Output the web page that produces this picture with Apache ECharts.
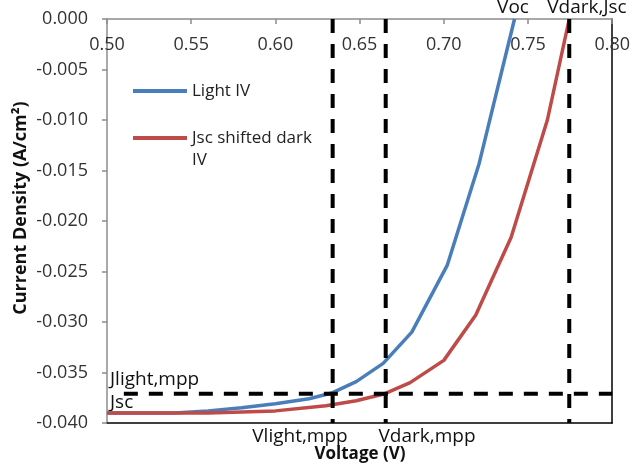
<!DOCTYPE html>
<html>
<head>
<meta charset="utf-8">
<script src="https://cdn.jsdelivr.net/npm/echarts@6/dist/echarts.min.js"></script>
<style>
html,body{margin:0;padding:0;background:#fff;}
#c{width:633px;height:475px;}
</style>
</head>
<body>
<div id="c"></div>
<script>
// Light IV: voltage (V), current density (A/cm2)
var lightV = [0.50, 0.54, 0.56, 0.58, 0.60, 0.62, 0.634, 0.648, 0.664, 0.681, 0.702, 0.721, 0.742];
var lightJ = [-0.0390, -0.0390, -0.0388, -0.0385, -0.0381, -0.0376, -0.0370, -0.0359, -0.0341, -0.0310, -0.0244, -0.0143, 0.0000];
// Jsc shifted dark IV
var darkV = [0.50, 0.56, 0.60, 0.63, 0.648, 0.665, 0.680, 0.700, 0.719, 0.740, 0.7615, 0.7745];
var darkJ = [-0.0390, -0.0390, -0.0388, -0.0383, -0.0378, -0.0371, -0.0360, -0.0338, -0.0293, -0.0216, -0.0100, 0.0000];
// reference markers
var vLightMpp = 0.634;
var vDarkMpp = 0.6655;
var vDarkJsc = 0.7745;
var jMpp = -0.0371;
var hLineStartV = 0.51;
var xMin = 0.50, xMax = 0.80, xStep = 0.05;
var yMin = -0.040, yMax = 0.000, yStep = 0.005;

function zip(a, b) { return a.map(function (v, i) { return [v, b[i]]; }); }

var FONT = '"Open Sans", sans-serif';
var dashStyle = { color: '#000', width: 4, type: [14, 11] };

var chart = echarts.init(document.getElementById('c'));
chart.setOption({
  animation: false,
  backgroundColor: '#fff',
  textStyle: { fontFamily: FONT },
  grid: { left: 107, right: 20, top: 19, bottom: 52 },
  legend: {
    orient: 'vertical',
    left: 128, top: 75,
    itemWidth: 54, itemHeight: 4, itemGap: 3,
    icon: 'rect',
    formatter: function (n) { return n === 'Jsc shifted dark IV' ? ' \nJsc shifted dark\nIV' : n; },
    textStyle: { fontFamily: FONT, fontSize: 17, color: '#222', lineHeight: 22 },
    data: ['Light IV', 'Jsc shifted dark IV']
  },
  xAxis: [{
    type: 'value', position: 'top', min: xMin, max: xMax, interval: xStep,
    axisLine: { onZero: false, lineStyle: { color: '#8c8c8c', width: 1.5 } },
    axisTick: { inside: true, length: 5, lineStyle: { color: '#8c8c8c', width: 1.5 } },
    axisLabel: { inside: true, margin: 17, fontSize: 18, color: '#333', fontFamily: FONT,
      formatter: function (v) { return v.toFixed(2); } },
    splitLine: { show: false }
  }, {
    type: 'value', position: 'bottom', min: xMin, max: xMax,
    axisLine: { onZero: false, lineStyle: { color: '#000', width: 1.5 } },
    axisTick: { show: false }, axisLabel: { show: false }, splitLine: { show: false }
  }],
  yAxis: [{
    type: 'value', position: 'left', min: yMin, max: yMax, interval: yStep,
    axisLine: { onZero: false, show: true, lineStyle: { color: '#8c8c8c', width: 1.5 } },
    axisTick: { show: true, length: 5, lineStyle: { color: '#8c8c8c', width: 1.5 } },
    axisLabel: { margin: 19, fontSize: 18, color: '#333', fontFamily: FONT,
      formatter: function (v) { return v.toFixed(3); } },
    splitLine: { show: false }
  }, {
    type: 'value', position: 'right', min: yMin, max: yMax,
    axisLine: { onZero: false, show: true, lineStyle: { color: '#000', width: 1.5 } },
    axisTick: { show: false }, axisLabel: { show: false }, splitLine: { show: false }
  }],
  series: [
    { name: 'vlight', type: 'line', data: [[vLightMpp, yMax], [vLightMpp, yMin]], symbol: 'none', lineStyle: dashStyle, z: 3, silent: true },
    { name: 'vdark', type: 'line', data: [[vDarkMpp, yMax], [vDarkMpp, yMin]], symbol: 'none', lineStyle: dashStyle, z: 3, silent: true },
    { name: 'vdarkjsc', type: 'line', data: [[vDarkJsc, yMax], [vDarkJsc, yMin]], symbol: 'none', lineStyle: dashStyle, z: 3, silent: true },
    { name: 'jmpp', type: 'line', data: [[hLineStartV, jMpp], [xMax, jMpp]], symbol: 'none', lineStyle: dashStyle, z: 3, silent: true },
    { name: 'Light IV', type: 'line', data: zip(lightV, lightJ), symbol: 'none', smooth: false,
      itemStyle: { color: '#4A7EBB' }, lineStyle: { color: '#4A7EBB', width: 3.5 }, z: 2 },
    { name: 'Jsc shifted dark IV', type: 'line', data: zip(darkV, darkJ), symbol: 'none', smooth: false,
      itemStyle: { color: '#BE4B48' }, lineStyle: { color: '#BE4B48', width: 3.5 }, z: 2 }
  ],
  graphic: [
    { type: 'text', x: 513, y: 8, style: { text: 'Voc', font: '19px ' + FONT, fill: '#111', align: 'center', verticalAlign: 'middle' } },
    { type: 'text', x: 587, y: 8, style: { text: 'Vdark,Jsc', font: '19px ' + FONT, fill: '#111', align: 'center', verticalAlign: 'middle' } },
    { type: 'text', x: 110, y: 380, style: { text: 'Jlight,mpp', font: '19px ' + FONT, fill: '#111', align: 'left', verticalAlign: 'middle' } },
    { type: 'text', x: 110, y: 403, style: { text: 'Jsc', font: '19px ' + FONT, fill: '#111', align: 'left', verticalAlign: 'middle' } },
    { type: 'text', x: 300, y: 437, style: { text: 'Vlight,mpp', font: '19px ' + FONT, fill: '#111', align: 'center', verticalAlign: 'middle' } },
    { type: 'text', x: 427, y: 437, style: { text: 'Vdark,mpp', font: '19px ' + FONT, fill: '#111', align: 'center', verticalAlign: 'middle' } },
    { type: 'text', x: 360, y: 454, style: { text: 'Voltage (V)', font: 'bold 17px ' + FONT, fill: '#111', align: 'center', verticalAlign: 'middle' } },
    { type: 'text', x: 21, y: 208, rotation: Math.PI / 2, style: { text: 'Current Density (A/cm²)', font: 'bold 18px ' + FONT, fill: '#111', align: 'center', verticalAlign: 'middle' } }
  ]
});
</script>
</body>
</html>
